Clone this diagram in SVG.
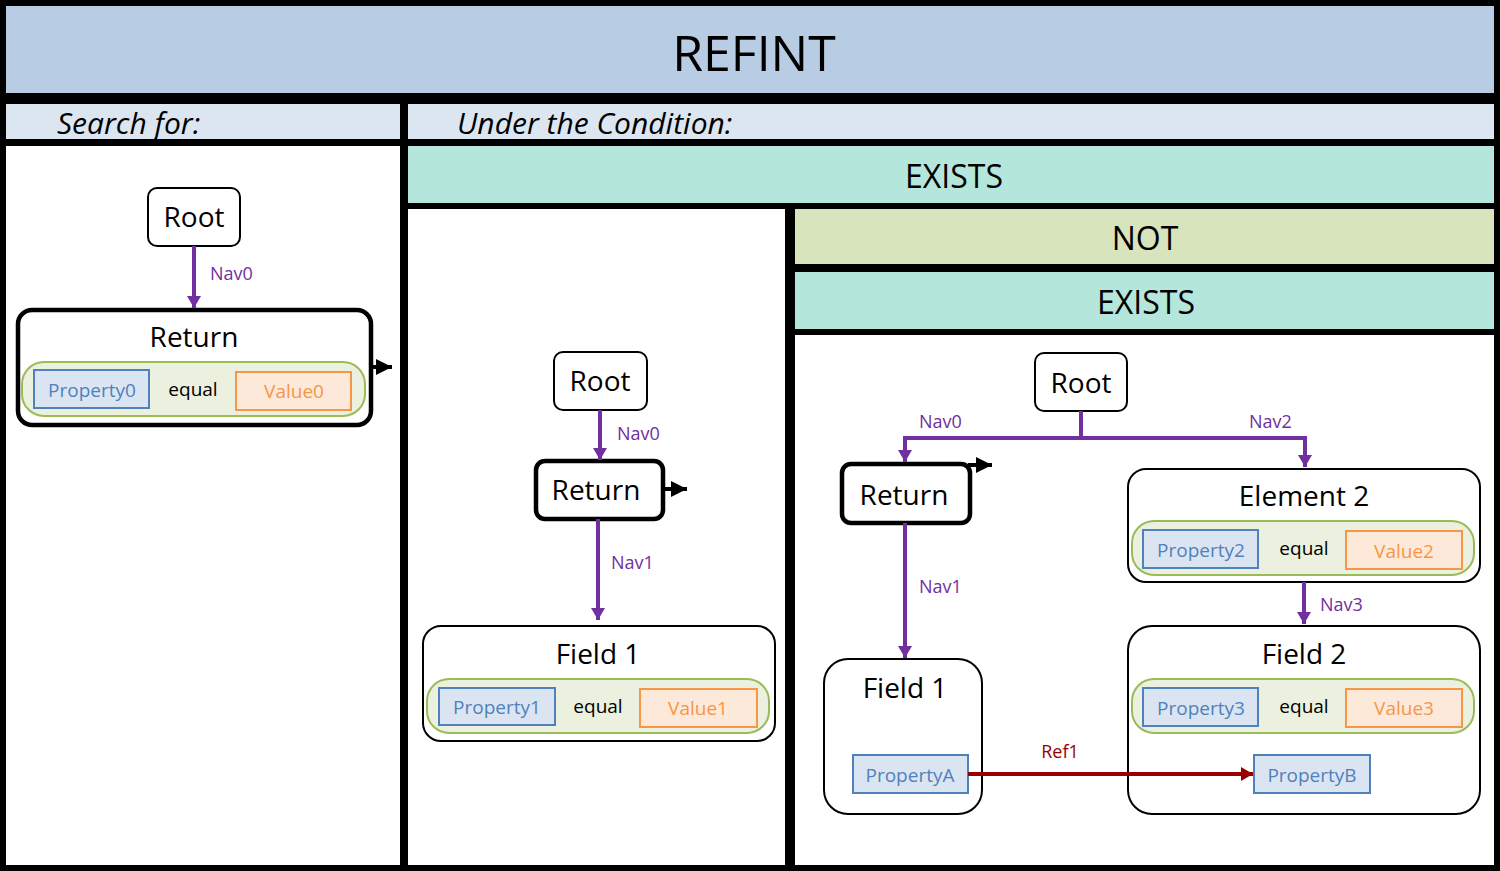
<svg xmlns="http://www.w3.org/2000/svg" width="1500" height="871" viewBox="0 0 1500 871">
<style>
text{font-family:"Open Sans","Noto Sans","Liberation Sans",sans-serif;text-anchor:middle;dominant-baseline:central}
.hdr{font-size:32px;fill:#000}
.node{fill:#fff;stroke:#000;stroke-width:2}
.ret{fill:#fff;stroke:#000;stroke-width:4.5}
.nt{font-size:28px;fill:#000}
.pill{fill:#ebf1de;stroke:#9bbb59;stroke-width:2}
.prop{fill:#dbe5f1;stroke:#4f81bd;stroke-width:2}
.val{fill:#fde9d9;stroke:#f79646;stroke-width:2}
.pt{font-size:19px;fill:#4f81bd}
.vt{font-size:19px;fill:#f79646}
.eq{font-size:19px;fill:#000}
.nav{fill:none;stroke:#7030a0;stroke-width:4}
.navl{font-size:18px;fill:#7030a0;text-anchor:start}
.ref{fill:none;stroke:#980000;stroke-width:4}
.out{fill:none;stroke:#000;stroke-width:4}
</style>
<defs>
<marker id="ap" markerUnits="userSpaceOnUse" markerWidth="14" markerHeight="14" refX="12" refY="7" orient="auto"><path d="M0,0 L12,7 L0,14 Z" fill="#7030a0"/></marker>
<marker id="ar" markerUnits="userSpaceOnUse" markerWidth="14" markerHeight="14" refX="12" refY="7" orient="auto"><path d="M0,0 L12,7 L0,14 Z" fill="#980000"/></marker>
<marker id="ab" markerUnits="userSpaceOnUse" markerWidth="18" markerHeight="16" refX="16" refY="8" orient="auto"><path d="M0,0 L16,8 L0,16 Z" fill="#000"/></marker>
</defs>
<rect x="0" y="0" width="1500" height="871" fill="#000"/>

<g id="bands">
<rect x="6" y="6" width="1488" height="87" fill="#b8cce4"/>
<text x="754" y="52" style="font-size:50px">REFINT</text>
<rect x="6" y="104" width="394" height="35" fill="#dce6f1"/>
<text x="57" y="122" style="font-size:30px;font-style:italic;text-anchor:start">Search for:</text>
<rect x="408" y="104" width="1086" height="35" fill="#dce6f1"/>
<text x="457" y="122" style="font-size:30px;font-style:italic;text-anchor:start">Under the Condition:</text>
<rect x="6" y="146" width="394" height="719" fill="#fff"/>
<rect x="408" y="146" width="1086" height="57" fill="#b5e6dc"/>
<text class="hdr" x="954" y="175">EXISTS</text>
<rect x="408" y="209" width="377" height="656" fill="#fff"/>
<rect x="795" y="209" width="699" height="55" fill="#d8e4bc"/>
<text class="hdr" x="1145" y="237">NOT</text>
<rect x="795" y="272" width="699" height="57" fill="#b5e6dc"/>
<text class="hdr" x="1146" y="301">EXISTS</text>
<rect x="795" y="335" width="699" height="530" fill="#fff"/>
</g>

<g id="root0">
<rect class="node" x="148" y="188" width="92" height="58" rx="9"/>
<text class="nt" x="194" y="216">Root</text>
</g>
<g id="return0">
<rect class="ret" x="18" y="310" width="353" height="115" rx="14"/>
<text class="nt" x="194" y="336">Return</text>
<rect class="pill" x="22" y="362" width="343" height="54" rx="22"/>
<rect class="prop" x="34" y="370" width="115" height="38"/>
<text class="pt" x="92" y="390">Property0</text>
<text class="eq" x="193" y="389">equal</text>
<rect class="val" x="236" y="372" width="115" height="38"/>
<text class="vt" x="294" y="391">Value0</text>
</g>

<g id="root1">
<rect class="node" x="554" y="352" width="93" height="58" rx="9"/>
<text class="nt" x="600" y="380">Root</text>
</g>
<g id="return1">
<rect class="ret" x="536" y="461" width="127" height="58" rx="9"/>
<text class="nt" x="596" y="489">Return</text>
</g>
<g id="field1a">
<rect class="node" x="423" y="626" width="352" height="115" rx="18"/>
<text class="nt" x="598" y="653">Field 1</text>
<rect class="pill" x="427" y="679" width="342" height="54" rx="22"/>
<rect class="prop" x="439" y="688" width="116" height="37"/>
<text class="pt" x="497" y="707">Property1</text>
<text class="eq" x="598" y="706">equal</text>
<rect class="val" x="640" y="689" width="117" height="38"/>
<text class="vt" x="698" y="708">Value1</text>
</g>

<g id="root2">
<rect class="node" x="1035" y="353" width="92" height="58" rx="9"/>
<text class="nt" x="1081" y="382">Root</text>
</g>
<g id="return2">
<rect class="ret" x="842" y="464" width="128" height="59" rx="9"/>
<text class="nt" x="904" y="494">Return</text>
</g>
<g id="element2">
<rect class="node" x="1128" y="469" width="352" height="113" rx="18"/>
<text class="nt" x="1304" y="495">Element 2</text>
<rect class="pill" x="1132" y="521" width="342" height="54" rx="22"/>
<rect class="prop" x="1143" y="530" width="115" height="38"/>
<text class="pt" x="1201" y="550">Property2</text>
<text class="eq" x="1304" y="548">equal</text>
<rect class="val" x="1346" y="531" width="116" height="38"/>
<text class="vt" x="1404" y="551">Value2</text>
</g>
<g id="field1b">
<rect class="node" x="824" y="659" width="158" height="155" rx="24"/>
<text class="nt" x="905" y="687">Field 1</text>
<rect class="prop" x="853" y="755" width="115" height="38"/>
<text class="pt" x="910" y="775">PropertyA</text>
</g>
<g id="field2">
<rect class="node" x="1128" y="626" width="352" height="188" rx="24"/>
<text class="nt" x="1304" y="653">Field 2</text>
<rect class="pill" x="1132" y="679" width="342" height="54" rx="22"/>
<rect class="prop" x="1143" y="688" width="115" height="38"/>
<text class="pt" x="1201" y="708">Property3</text>
<text class="eq" x="1304" y="706">equal</text>
<rect class="val" x="1346" y="689" width="116" height="38"/>
<text class="vt" x="1404" y="708">Value3</text>
<rect class="prop" x="1254" y="755" width="116" height="38"/>
<text class="pt" x="1312" y="775">PropertyB</text>
</g>

<g id="connectors">
<path class="nav" d="M194,246 V308" marker-end="url(#ap)"/>
<text class="navl" x="210" y="273">Nav0</text>
<path class="out" d="M371,367 H392" marker-end="url(#ab)"/>

<path class="nav" d="M600,410 V460" marker-end="url(#ap)"/>
<text class="navl" x="617" y="433">Nav0</text>
<path class="out" d="M663,489 H687" marker-end="url(#ab)"/>
<path class="nav" d="M598,519 V620" marker-end="url(#ap)"/>
<text class="navl" x="611" y="562">Nav1</text>

<path class="nav" d="M1081,411 V438 H905 V462" marker-end="url(#ap)"/>
<path class="nav" d="M1081,438 H1305 V467" marker-end="url(#ap)"/>
<text class="navl" x="919" y="421">Nav0</text>
<text class="navl" x="1249" y="421">Nav2</text>
<path class="out" d="M968,465 H992" marker-end="url(#ab)"/>
<path class="nav" d="M905,523 V658" marker-end="url(#ap)"/>
<text class="navl" x="919" y="586">Nav1</text>
<path class="nav" d="M1304,582 V624" marker-end="url(#ap)"/>
<text class="navl" x="1320" y="604">Nav3</text>
<path class="ref" d="M968,774 H1253" marker-end="url(#ar)"/>
<text x="1060" y="751" style="font-size:18px;fill:#980000">Ref1</text>
</g>
</svg>
